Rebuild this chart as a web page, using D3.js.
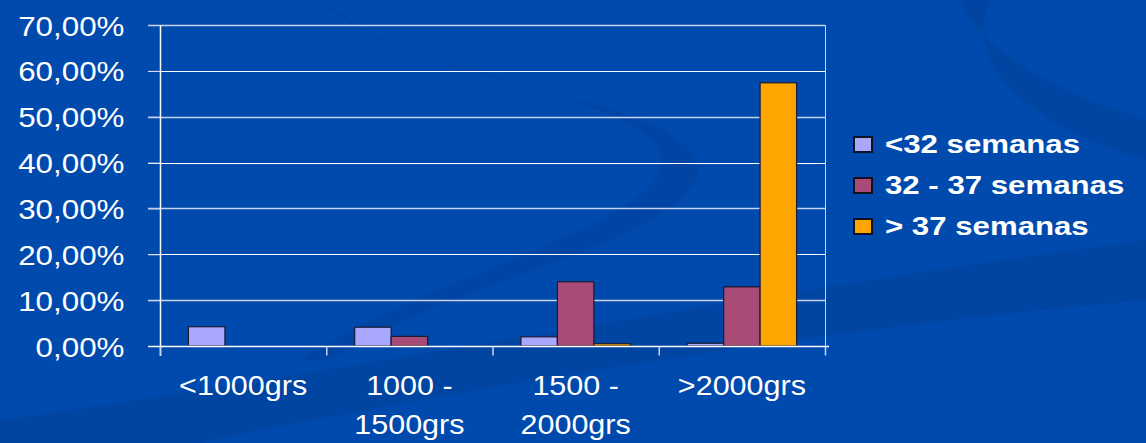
<!DOCTYPE html>
<html>
<head>
<meta charset="utf-8">
<script src="https://cdn.jsdelivr.net/npm/d3@7"></script>
<style>
  html, body { margin: 0; padding: 0; background: #004aad; }
  svg { display: block; font-family: "Liberation Sans", Arial, sans-serif; }
</style>
</head>
<body>
<svg id="chart" width="1146" height="443"></svg>
<script>
var categories = [['<1000grs'], ['1000 -', '1500grs'], ['1500 -', '2000grs'], ['>2000grs']];
var seriesNames = ['<32 semanas', '32 - 37 semanas', '> 37 semanas'];
var seriesColors = ['#a8a8ff', '#a94b77', '#ffa500'];
var menos32 = [4.2, 4.1, 2.0, 0.6];
var de32a37 = [0, 2.1, 14.0, 12.9];
var mas37 = [0, 0, 0.5, 57.4];
var yTicks = [0, 10, 20, 30, 40, 50, 60, 70];

var series = [menos32, de32a37, mas37];
var svg = d3.select('#chart');
var W = 1146, H = 443;

// fondo con curvas suaves
svg.append('rect').attr('width', W).attr('height', H).attr('fill', '#004aad');
svg.append('path')
	.attr('d', 'M320,0 C360,40 460,70 560,95 C700,130 740,170 650,220 C560,270 420,300 330,360 L300,360 C420,280 640,230 660,170 C680,110 480,80 380,40 Z')
	.attr('fill', '#00439e').attr('opacity', 0.6);
svg.append('path')
	.attr('d', 'M960,0 C980,50 1050,90 1146,120 L1146,160 C1040,130 960,70 990,0 Z')
	.attr('fill', '#00439e').attr('opacity', 0.8);
svg.append('path')
	.attr('d', 'M0,443 L0,420 C300,380 700,300 1146,240 L1146,300 C800,330 400,400 200,443 Z')
	.attr('fill', '#00449f').attr('opacity', 0.8);

var margin = {left: 160, right: 321, top: 25, bottom: 97};
var x0 = d3.scaleBand().domain(d3.range(categories.length))
	.range([margin.left, W - margin.right]).paddingInner(0).paddingOuter(0);
var x1 = d3.scaleBand().domain(d3.range(series.length))
	.range([0, x0.bandwidth()]).paddingInner(0).paddingOuter(0.78);
var y = d3.scaleLinear().domain([0, 70]).range([H - margin.bottom, margin.top]);

// líneas de cuadrícula
var grid = svg.append('g');
grid.selectAll('line').data(yTicks.slice(1)).enter().append('line')
	.attr('x1', margin.left - 12).attr('x2', W - margin.right)
	.attr('y1', function (d) { return Math.round(y(d)) + 0.5; })
	.attr('y2', function (d) { return Math.round(y(d)) + 0.5; })
	.attr('stroke', function (d, i) { return i % 2 === 0 ? '#c8d4ee' : '#ffffff'; })
	.attr('stroke-width', function (d, i) { return i % 2 === 0 ? 1.5 : 1; });

// borde derecho
svg.append('line')
	.attr('x1', W - margin.right + 0.5).attr('x2', W - margin.right + 0.5)
	.attr('y1', y(70)).attr('y2', y(0) + 8)
	.attr('stroke', '#c8d4ee').attr('stroke-width', 1);

// barras
var groups = svg.append('g').selectAll('g').data(categories).enter().append('g')
	.attr('transform', function (d, i) { return 'translate(' + x0(i) + ',0)'; });
groups.selectAll('rect').data(function (d, i) {
	return series.map(function (s, j) { return {s: j, v: s[i]}; });
}).enter().filter(function (d) { return d.v > 0; }).append('rect')
	.attr('x', function (d) { return x1(d.s); })
	.attr('width', x1.bandwidth())
	.attr('y', function (d) { return y(d.v); })
	.attr('height', function (d) { return y(0) - y(d.v); })
	.attr('fill', function (d) { return seriesColors[d.s]; })
	.attr('stroke', '#1a1a33').attr('stroke-width', 1.2);

// eje Y
var yAxis = svg.append('g').attr('transform', 'translate(' + (margin.left + 0.5) + ',0)')
	.call(d3.axisLeft(y).tickValues(yTicks).tickSize(12).tickPadding(23)
		.tickFormat(function (d) { return d3.format('.2f')(d).replace('.', ',') + '%'; }));
yAxis.select('.domain').attr('stroke', '#ffffff').attr('stroke-width', 1.5)
	.attr('d', 'M0,' + y(70) + 'V' + (y(0) + 10));
yAxis.selectAll('.tick line').attr('stroke', '#c8d4ee');
yAxis.selectAll('.tick text').attr('fill', '#ffffff').attr('font-size', 28)
	.attr('x', 0).attr('dy', '0.36em')
	.attr('transform', 'translate(-36,0) scale(1.12,1)');

// eje X
var xAxis = svg.append('g').attr('transform', 'translate(0,' + (y(0) + 0.5) + ')');
xAxis.append('line').attr('x1', margin.left - 12).attr('x2', W - margin.right + 4)
	.attr('stroke', '#ffffff').attr('stroke-width', 1.5);
xAxis.selectAll('.xt').data(d3.range(categories.length + 1)).enter().append('line')
	.attr('x1', function (i) { return i < categories.length ? x0(i) + 0.5 : W - margin.right + 0.5; })
	.attr('x2', function (i) { return i < categories.length ? x0(i) + 0.5 : W - margin.right + 0.5; })
	.attr('y1', 0).attr('y2', 9).attr('stroke', '#c8d4ee').attr('stroke-width', 1.5);
var xl = xAxis.selectAll('text').data(categories).enter().append('text')
	.attr('text-anchor', 'middle').attr('fill', '#ffffff').attr('font-size', 27)
	.attr('transform', function (d, i) { return 'translate(' + (x0(i) + x0.bandwidth() / 2) + ',48) scale(1.13,1)'; });
xl.selectAll('tspan').data(function (d) { return d; }).enter().append('tspan')
	.attr('x', 0).attr('dy', function (d, i) { return i === 0 ? 0 : 40; })
	.text(function (d) { return d; });

// leyenda
var legend = svg.append('g').attr('transform', 'translate(854,0)');
var ly = [144, 185, 226];
var li = legend.selectAll('g').data(seriesNames).enter().append('g')
	.attr('transform', function (d, i) { return 'translate(0,' + ly[i] + ')'; });
li.append('rect').attr('x', 0).attr('y', -7).attr('width', 18).attr('height', 15)
	.attr('fill', function (d, i) { return seriesColors[i]; })
	.attr('stroke', '#111122').attr('stroke-width', 2);
li.append('text').attr('x', 0).attr('dy', '0.36em').attr('fill', '#ffffff')
	.attr('font-size', 26).attr('font-weight', 'bold')
	.attr('transform', 'translate(31,0) scale(1.2,1)')
	.text(function (d) { return d; });
</script>
</body>
</html>
